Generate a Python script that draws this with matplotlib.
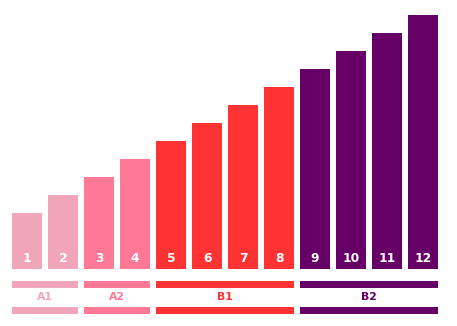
import numpy as np
import matplotlib
matplotlib.use('Agg')
import matplotlib.pyplot as plt

# bar data (heights)
labels = ['1', '2', '3', '4', '5', '6', '7', '8', '9', '10', '11', '12']
values = [56, 74, 92, 110, 128, 146, 164, 182, 200, 218, 236, 254]
groups = ['A1', 'A1', 'A2', 'A2', 'B1', 'B1', 'B1', 'B1', 'B2', 'B2', 'B2', 'B2']

group_names = ['A1', 'A2', 'B1', 'B2']
group_colors = {'A1': '#F0A5B8', 'A2': '#FF7895', 'B1': '#FF3333', 'B2': '#660066'}

fig = plt.figure(figsize=(4.57, 3.26), dpi=100)
ax = fig.add_axes([0, 0, 1, 1])
ax.set_xlim(-27 / 36, (457 - 27) / 36)
ax.set_ylim(-57, 269)
ax.axis('off')

width = 30 / 36
x = np.arange(len(values))
colors = [group_colors[g] for g in groups]
ax.bar(x, values, width=width, color=colors)

for xi, lab in zip(x, labels):
    ax.text(xi, 10, lab, ha='center', va='center', color='white',
            fontsize=8.8, fontweight='bold')

# group bands with labels
for name in group_names:
    idx = [i for i, g in enumerate(groups) if g == name]
    left = idx[0] - width / 2
    w = idx[-1] - idx[0] + width
    c = group_colors[name]
    ax.bar(left, 7, width=w, bottom=-19, align='edge', color=c)
    ax.bar(left, 7, width=w, bottom=-45, align='edge', color=c)
    ax.text((idx[0] + idx[-1]) / 2, -28, name, ha='center', va='center',
            color=c, fontsize=7.8, fontweight='bold')

plt.savefig('out.png', dpi=100)
